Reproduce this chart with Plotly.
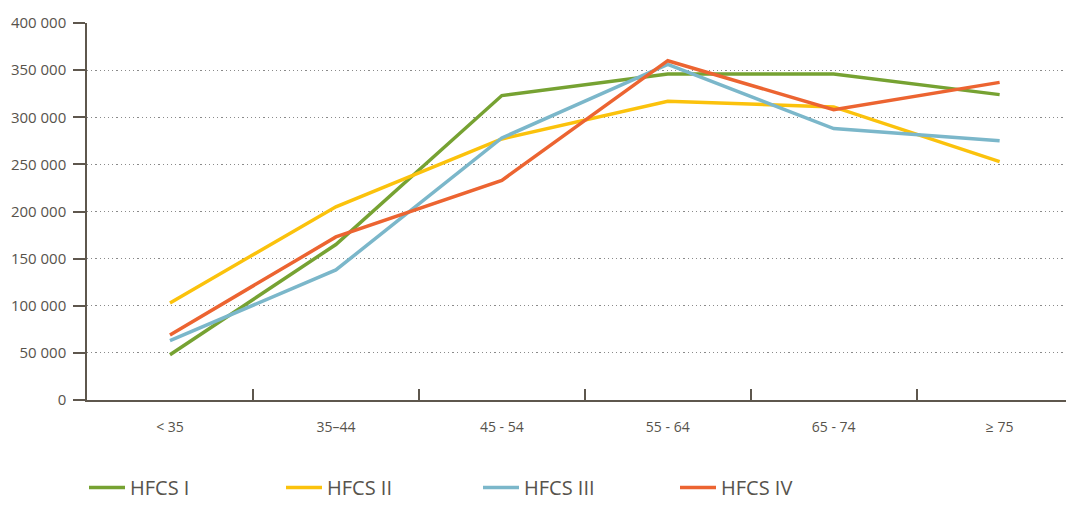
import plotly.graph_objects as go

categories = ["< 35", "35–44", "45 - 54", "55 - 64", "65 - 74", "≥ 75"]
hfcs_1 = [48000, 165000, 323000, 346000, 346000, 324000]
hfcs_2 = [103000, 205000, 277000, 317000, 311000, 253000]
hfcs_3 = [63000, 138000, 278000, 356000, 288000, 275000]
hfcs_4 = [69000, 173000, 233000, 360000, 308000, 337000]
series_names = ["HFCS I", "HFCS II", "HFCS III", "HFCS IV"]
colors = ["#76a232", "#fbc20c", "#7bb7ca", "#ec6431"]

axis_color = "#5e574d"
text_color = "#57534c"

fig = go.Figure()
for name, vals, col in zip(series_names, [hfcs_1, hfcs_2, hfcs_3, hfcs_4], colors):
    fig.add_trace(go.Scatter(x=categories, y=vals, mode="lines", name=name,
                             line=dict(color=col, width=3.5)))

fig.update_layout(
    width=1070, height=507,
    margin=dict(l=87, r=4, t=23, b=107),
    paper_bgcolor="white", plot_bgcolor="white",
    separators=". ",
    font=dict(family="Open Sans", color=text_color, size=14),
    showlegend=True,
    legend=dict(orientation="h", xref="container", x=84 / 1070, xanchor="left",
                yref="container", y=-7 / 507, yanchor="bottom",
                entrywidth=146, entrywidthmode="pixels",
                font=dict(size=20, color=text_color), itemwidth=36,
                tracegroupgap=0),
)
fig.update_xaxes(
    type="category", range=[-0.5, 5.4], automargin=False,
    showline=True, linecolor=axis_color, linewidth=1.5,
    ticks="inside", tickson="boundaries", ticklen=11, tickcolor=axis_color, tickwidth=1.5,
    showgrid=False, zeroline=False,
    tickfont=dict(size=14, color=text_color), ticklabelstandoff=13,
)
fig.update_yaxes(
    range=[0, 400000], tickvals=[0, 50000, 100000, 150000, 200000, 250000, 300000, 350000, 400000],
    tickformat=",d", automargin=False,
    showline=True, linecolor=axis_color, linewidth=1.5,
    ticks="outside", ticklen=12, tickcolor=axis_color, tickwidth=1.5,
    showgrid=True, gridcolor="#8a8a8a", griddash="1.2px,3px", gridwidth=1.2,
    zeroline=False,
    tickfont=dict(size=15, color=text_color), ticklabelstandoff=4,
)

fig.write_html("out.html", post_script="document.body.style.margin='0';",
               config={"displayModeBar": False})
